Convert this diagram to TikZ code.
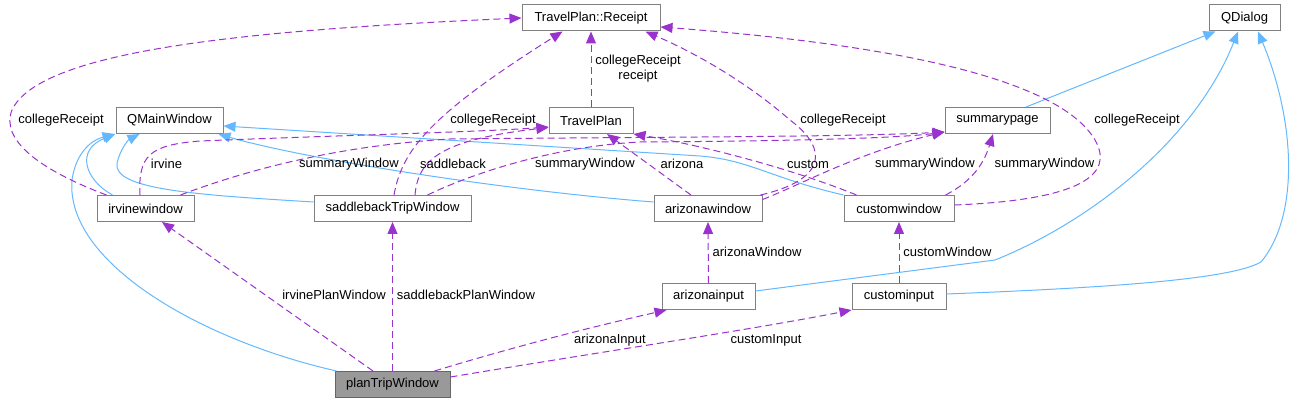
\documentclass[tikz,border=0pt]{standalone}
\usepackage{fontspec}
\setmainfont{Liberation Sans}
\usetikzlibrary{arrows.meta,calc}
\definecolor{boxgray}{HTML}{808080}
\definecolor{focusfill}{HTML}{999999}
\definecolor{focusdraw}{HTML}{666666}
\definecolor{inhblue}{HTML}{63B8FF}
\definecolor{usepurple}{HTML}{9A32CD}
\newcommand\dgfont{\fontsize{13}{15}\selectfont}
\tikzset{
  cls/.style={draw=boxgray, fill=white, line width=1pt, minimum height=26pt, inner sep=0pt, font=\dgfont},
  focus/.style={cls, draw=focusdraw, fill=focusfill},
  lbl/.style={inner sep=0pt, font=\dgfont, align=center},
  inh/.style={draw=inhblue, line width=1pt, -{Triangle[length=12pt,width=10pt]}},
  use/.style={draw=usepurple, line width=1pt, dash pattern=on 7pt off 4pt, -{Triangle[length=12pt,width=10pt]}},
}
\begin{document}
\begin{tikzpicture}[x=1pt,y=-1pt]
\useasboundingbox (0,0) rectangle (1302,403);
% classes
\node[cls, minimum width=138pt] (rec) at (591,18) {TravelPlan::Receipt};
\node[cls, minimum width=71pt] (qdlg) at (1244.5,18) {QDialog};
\node[cls, minimum width=107pt] (qmw) at (169.5,120.5) {QMainWindow};
\node[cls, minimum width=84pt] (tp) at (591,120.5) {TravelPlan};
\node[cls, minimum width=105pt] (sp) at (997.5,120.5) {summarypage};
\node[cls, minimum width=97pt] (irv) at (145.5,208.5) {irvinewindow};
\node[cls, minimum width=157pt] (sad) at (392.5,208.5) {saddlebackTripWindow};
\node[cls, minimum width=108pt] (ariw) at (708,208.5) {arizonawindow};
\node[cls, minimum width=110pt] (cusw) at (899,208.5) {customwindow};
\node[cls, minimum width=93pt] (arii) at (708.5,296.5) {arizonainput};
\node[cls, minimum width=94pt] (cusi) at (899,296.5) {custominput};
\node[focus, minimum width=115pt] (plan) at (392.5,384.5) {planTripWindow};

% inheritance
\draw[inh] ($(irv.north west)+(16,0)$) .. controls (85,180) and (75,150) .. (qmw.south west);
\draw[inh] ($(plan.north west)+(2,0)$) .. controls (200,340) and (65,262) .. (72,180) .. controls (76,152) and (92,140) .. ($(qmw.south west)+(-1,0)$);
\draw[inh] ($(sad.west)+(0,-6.5)$) .. controls (200,195) and (112,190) .. (117,163) .. controls (120,150) and (128,140) .. ($(qmw.south west)+(24,0)$);
\draw[inh] ($(ariw.west)+(0,-6.5)$) .. controls (500,190) and (300,158) .. ($(qmw.south east)+(-5,0)$);
\draw[inh] (cusw.north west) .. controls (770,178) and (750,160) .. (700,156) -- ($(qmw.east)+(0,5.5)$);
\draw[inh] ($(sp.north)+(28.5,0)$) -- ($(qdlg.south west)+(7,0)$);
\draw[inh] ($(arii.east)+(0,-5.5)$) -- (995,260) .. controls (1090,222) and (1195,140) .. ($(qdlg.south)+(-6.5,0)$);
\draw[inh] ($(cusi.east)+(0,-2.5)$) .. controls (1100,288) and (1230,280) .. (1261,262) .. controls (1300,215) and (1295,120) .. ($(qdlg.south)+(13.5,0)$);

% usage
\draw[use] ($(irv.north west)+(10,0)$) .. controls (40,170) and (0,140) .. (12,110) .. controls (40,50) and (250,30) .. (rec.west);
\draw[use] ($(sad.north)+(1.5,0)$) .. controls (402,150) and (430,115) .. ($(rec.south west)+(41,0)$);
\draw[use] (tp.north) -- (rec.south);
\draw[use] ($(ariw.north east)+(-2,0)$) .. controls (825,180) and (830,150) .. (790,120) .. controls (750,85) and (700,55) .. ($(rec.south east)+(-15,0)$);
\draw[use] ($(ariw.north)+(-17,0)$) -- ($(tp.south)+(16,0)$);
\draw[use] ($(ariw.east)+(0,-9)$) .. controls (800,185) and (860,152) .. ($(sp.south west)+(0,-2)$);
\draw[use] ($(cusw.north west)+(13,0)$) .. controls (790,168) and (700,145) .. (tp.south east);
\draw[use] ($(cusw.north east)+(-9,0)$) .. controls (975,180) and (985,160) .. ($(sp.south)+(-4.5,0)$);
\draw[use] ($(cusw.east)+(0,-3.5)$) .. controls (1080,200) and (1115,175) .. (1095,140) .. controls (1060,80) and (900,45) .. ($(rec.east)+(0,9)$);
\draw[use] ($(irv.north)+(-5.5,0)$) .. controls (138,155) and (150,145) .. (200,141) .. controls (350,135) and (480,132) .. ($(tp.west)+(0,6.5)$);
\draw[use] ($(sad.north)+(22.5,0)$) .. controls (418,160) and (440,140) .. ($(tp.west)+(0,7)$);
\draw[use] ($(irv.north east)+(-14,0)$) .. controls (260,165) and (350,145) .. (450,139) .. controls (650,137) and (850,137) .. ($(sp.south west)+(0,-2)$);
\draw[use] ($(sad.north east)+(-44,0)$) .. controls (480,170) and (560,146) .. (640,142) .. controls (800,141) and (900,138) .. ($(sp.south west)+(0,-2)$);
\draw[use] ($(plan.north)+(-19.5,0)$) -- ($(irv.south)+(16.5,0)$);
\draw[use] (plan.north) -- (sad.south);
\draw[use] ($(plan.north east)+(-16,0)$) .. controls (520,345) and (600,325) .. ($(arii.south west)+(5,0)$);
\draw[use] ($(plan.east)+(0,-7.5)$) .. controls (600,352) and (750,330) .. (cusi.south west);
\draw[use] (arii.north) -- (ariw.south);
\draw[use] (cusi.north) -- (cusw.south);

% labels
\node[lbl] (l1) at (61,120) {collegeReceipt};
\node[lbl] (l2) at (493,120) {collegeReceipt};
\node[lbl] (l3) at (638,68.5) {collegeReceipt\\receipt};
\node[lbl] (l4) at (843,120) {collegeReceipt};
\node[lbl] (l5) at (1137,120) {collegeReceipt};
\node[lbl] (l6) at (166.5,164) {irvine};
\node[lbl] (l7) at (349,164) {summaryWindow};
\node[lbl] (l8) at (453,164) {saddleback};
\node[lbl] (l9) at (585,164) {summaryWindow};
\node[lbl] (l10) at (682,164) {arizona};
\node[lbl] (l11) at (808,164) {custom};
\node[lbl] (l12) at (925,164) {summaryWindow};
\node[lbl] (l13) at (1044.5,164) {summaryWindow};
\node[lbl] (l14) at (757,252) {arizonaWindow};
\node[lbl] (l15) at (947.5,252) {customWindow};
\node[lbl] (l16) at (334,295) {irvinePlanWindow};
\node[lbl] (l17) at (466,295) {saddlebackPlanWindow};
\node[lbl] (l18) at (610,340) {arizonaInput};
\node[lbl] (l19) at (766,340) {customInput};
\end{tikzpicture}
\end{document}
